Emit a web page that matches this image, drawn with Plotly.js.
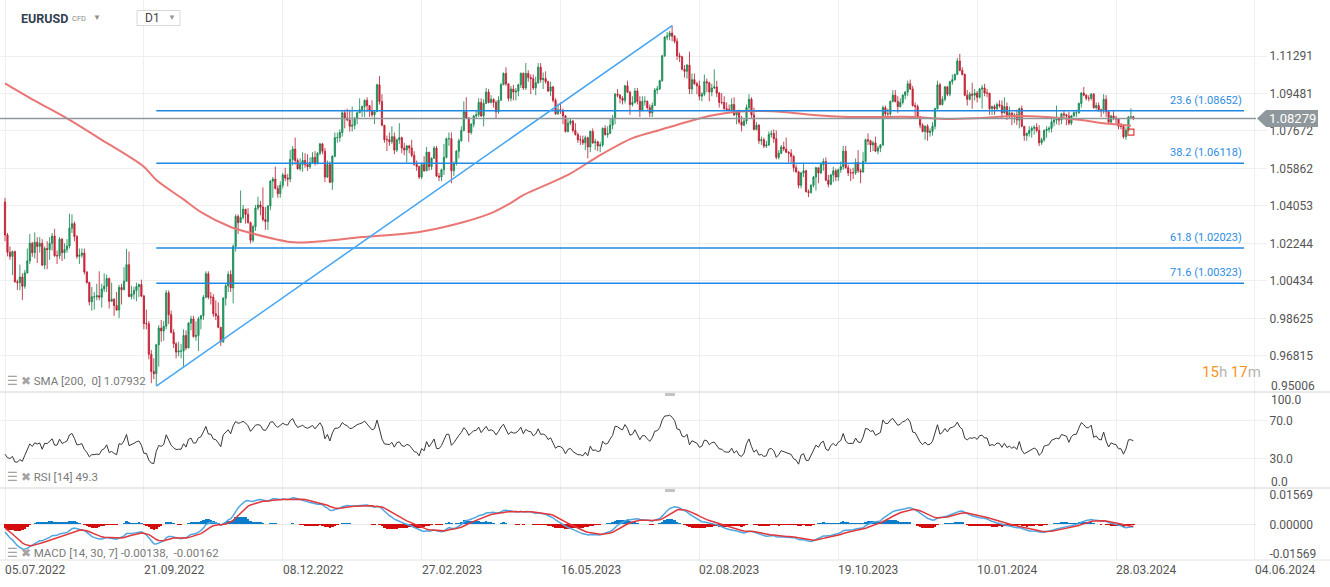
<!DOCTYPE html>
<html><head><meta charset="utf-8">
<script src="https://cdn.plot.ly/plotly-3.0.1.min.js"></script>
<style>html,body{margin:0;padding:0;background:#fff;}#chart{width:1330px;height:587px;}</style>
</head><body><div id="chart"></div>
<script>
// ---------- DATA (EURUSD D1, prices in 1/10000) ----------
// closes before the first visible bar (only used to warm up RSI / MACD)
const preClosePips = [10410,10435,10555,10465,10585,10565,10690,10735,10680,10725,10730,10780,10735,10650,10750,10720,10695,10700,10715,10615,10520,10410,10415,10445,10545,10495,10510,10535,10565,10520,10555,10580,10520,10445,10480,10425,10425];

const closePips = [
10265,10182,10162,10185,10040,10035,10062,10018,10082,10140,
10225,10180,10230,10210,10225,10120,10200,10195,10225,10260,
10165,10165,10245,10180,10195,10212,10298,10320,10258,10162,
10168,10178,10087,10036,9943,9967,9967,9972,9965,10005,
10018,10055,9945,9955,9925,9903,10012,10001,10042,10122,
9968,9980,9997,10016,10026,9971,9838,9837,9690,9607,
9596,9735,9816,9802,9825,9986,9880,9795,9740,9700,
9705,9705,9780,9720,9840,9860,9775,9780,9860,9875,
9965,10078,9965,9965,9885,9875,9820,9750,9960,10020,
10075,10010,10210,10355,10325,10350,10390,10365,10325,10240,
10305,10395,10410,10400,10340,10330,10405,10525,10535,10490,
10465,10505,10555,10540,10535,10630,10680,10625,10585,10605,
10625,10605,10595,10615,10640,10610,10660,10705,10670,10545,
10605,10520,10645,10735,10735,10760,10855,10830,10820,10790,
10795,10830,10855,10870,10885,10915,10890,10865,10845,10860,
10990,10910,10795,10725,10725,10715,10740,10675,10725,10735,
10685,10675,10695,10685,10650,10605,10595,10545,10605,10575,
10665,10595,10635,10685,10550,10545,10580,10640,10730,10730,
10575,10610,10670,10720,10770,10860,10830,10760,10800,10840,
10845,10905,10840,10900,10955,10905,10920,10905,10860,10915,
10990,11045,10995,10925,10970,10955,10960,10990,11045,10975,
11045,11025,11020,10975,11000,11075,11015,11020,11005,10960,
10980,10915,10850,10870,10865,10840,10765,10805,10815,10770,
10750,10725,10725,10710,10735,10690,10765,10710,10715,10695,
10700,10780,10750,10755,10795,10830,10945,10940,10925,10915,
10985,10955,10895,10905,10960,10910,10865,10910,10910,10880,
10855,10890,10965,10970,11010,11130,11220,11225,11240,11225,
11200,11130,11125,11065,11055,11085,10970,11015,10995,10985,
10935,10945,11005,11000,10955,10975,10980,10950,10905,10905,
10875,10870,10870,10895,10845,10860,10810,10795,10815,10880,
10920,10845,10775,10795,10720,10725,10695,10700,10750,10755,
10730,10640,10660,10690,10680,10665,10660,10645,10590,10570,
10505,10565,10575,10475,10470,10505,10545,10590,10565,10605,
10620,10530,10510,10555,10575,10545,10580,10595,10670,10590,
10565,10565,10565,10615,10575,10570,10620,10725,10720,10700,
10710,10670,10685,10700,10880,10850,10850,10910,10940,10910,
10885,10905,10940,10955,10995,10970,10890,10885,10835,10795,
10765,10790,10760,10765,10790,10875,10990,10895,10920,10980,
10945,11005,11015,11040,11105,11060,11040,10940,10920,10945,
10940,10950,10930,10970,10975,10950,10950,10875,10885,10875,
10895,10890,10855,10885,10845,10855,10835,10845,10820,10875,
10790,10745,10755,10770,10780,10785,10770,10710,10725,10770,
10775,10780,10810,10820,10825,10820,10850,10845,10840,10805,
10840,10855,10855,10900,10950,10940,10925,10925,10945,10880,
10890,10870,10865,10920,10860,10810,10840,10830,10825,10790,
10790,10740,10770,10835,10836,10828];

const highPips = [
10445,10275,10210,10190,10190,10050,10122,10080,10096,10200,
10270,10232,10278,10255,10255,10245,10210,10235,10255,10275,
10295,10190,10255,10250,10225,10245,10368,10365,10330,10265,
10200,10200,10200,10090,10040,10015,9990,10030,10090,10030,
10080,10075,10060,10035,9960,9990,10025,10030,10110,10198,
10185,10020,10015,10035,10030,10050,9975,9905,9850,9710,
9670,9740,9830,9855,9850,9999,9998,9900,9810,9748,
9750,9740,9810,9805,9845,9875,9875,9848,9870,9880,
9975,10090,10090,9990,9980,9950,9940,9820,9965,10030,
10090,10095,10220,10365,10365,10480,10410,10390,10395,10330,
10315,10410,10450,10430,10495,10400,10410,10530,10545,10595,
10505,10525,10565,10590,10560,10675,10695,10735,10635,10635,
10665,10660,10655,10640,10665,10670,10665,10710,10710,10685,
10625,10620,10650,10760,10760,10775,10865,10870,10875,10870,
10885,10835,10860,10925,10890,10920,10930,10890,10915,10865,
10995,11033,10945,10795,10745,10760,10790,10760,10730,10805,
10740,10710,10700,10700,10725,10670,10625,10600,10615,10645,
10690,10665,10640,10695,10695,10565,10585,10705,10735,10760,
10760,10620,10675,10730,10790,10910,10930,10835,10805,10845,
10865,10925,10925,10920,10975,10970,10940,10925,10915,10935,
11000,11050,11075,10995,10985,10990,10975,10995,11050,11050,
11095,11060,11040,11040,11030,11095,11095,11050,11055,11010,
11005,10985,10925,10900,10905,10875,10845,10830,10830,10820,
10805,10760,10745,10745,10745,10740,10770,10780,10730,10720,
10715,10785,10795,10790,10825,10845,10950,10970,10945,10935,
10990,11010,10960,10935,10975,10975,10935,10935,10935,10915,
10895,10905,10975,10985,11015,11135,11225,11245,11250,11276,
11230,11215,11145,11130,11085,11090,11150,11045,11045,11005,
11010,10955,11040,11020,11005,10995,11065,11010,10955,10950,
10935,10905,10895,10925,10930,10865,10870,10840,10825,10895,
10945,10930,10880,10810,10800,10740,10735,10720,10765,10770,
10775,10770,10675,10700,10715,10735,10670,10680,10650,10605,
10575,10570,10615,10580,10485,10510,10550,10595,10590,10615,
10635,10640,10555,10560,10595,10585,10585,10620,10695,10695,
10605,10585,10590,10635,10675,10585,10665,10730,10755,10725,
10720,10740,10695,10705,10890,10890,10875,10915,10965,10965,
10935,10925,10945,10960,11010,11015,10985,10905,10895,10840,
10805,10795,10800,10780,10810,10880,11010,11000,10935,10985,
10985,11010,11040,11045,11120,11139,11075,11045,10965,10955,
11000,10970,10960,10975,10990,10995,10970,10950,10890,10895,
10905,10915,10915,10930,10905,10885,10855,10855,10870,10880,
10890,10790,10760,10790,10790,10795,10805,10795,10735,10775,
10790,10790,10825,10825,10890,10835,10855,10865,10850,10860,
10845,10865,10870,10905,10955,10980,10945,10940,10950,10950,
10905,10905,10875,10945,10940,10865,10845,10865,10840,10830,
10805,10800,10785,10840,10876,10840];

const lowPips = [
10235,10162,10145,10072,10035,10000,9998,9952,10006,10080,
10125,10160,10152,10130,10180,10115,10100,10100,10145,10190,
10160,10125,10150,10140,10150,10180,10200,10275,10235,10150,
10125,10155,10075,10030,9925,9900,9905,9950,9950,9915,
9990,9990,9910,9945,9875,9900,9865,9930,10000,10040,
9965,9955,9955,9945,9965,9965,9810,9810,9665,9550,
9570,9536,9630,9750,9755,9810,9835,9790,9720,9670,
9680,9670,9630,9710,9720,9805,9770,9755,9705,9810,
9855,9960,9955,9930,9870,9855,9815,9730,9745,9925,
9990,9990,9935,10185,10270,10325,10340,10320,10320,10225,
10230,10285,10385,10360,10330,10290,10290,10385,10445,10485,
10445,10445,10490,10525,10500,10520,10600,10605,10580,10575,
10570,10590,10575,10585,10610,10600,10605,10650,10655,10520,
10540,10515,10483,10640,10710,10715,10740,10780,10815,10765,
10765,10775,10800,10855,10835,10835,10860,10835,10835,10800,
10860,10895,10790,10710,10670,10695,10705,10655,10665,10705,
10660,10650,10615,10660,10640,10600,10575,10535,10535,10570,
10575,10575,10580,10635,10545,10525,10525,10555,10635,10695,
10515,10550,10600,10635,10715,10765,10825,10715,10750,10785,
10825,10835,10835,10790,10900,10900,10900,10880,10830,10850,
10915,10990,10985,10910,10910,10915,10915,10935,10975,10965,
10965,11005,10945,10965,10940,10995,11000,10970,10995,10955,
10935,10905,10845,10845,10850,10800,10760,10760,10795,10760,
10745,10710,10700,10700,10675,10635,10665,10705,10675,10670,
10665,10690,10745,10735,10755,10775,10800,10930,10900,10895,
10900,10950,10845,10885,10900,10895,10835,10865,10890,10870,
10835,10835,10890,10945,10965,11005,11125,11205,11205,11200,
11190,11110,11100,11060,11025,11020,10945,10945,10990,10945,
10915,10910,10935,10955,10910,10935,10970,10930,10880,10895,
10870,10865,10865,10865,10840,10800,10800,10765,10790,10800,
10860,10830,10770,10770,10705,10700,10685,10685,10695,10735,
10710,10630,10630,10655,10670,10660,10615,10615,10570,10565,
10490,10490,10545,10470,10448,10465,10495,10480,10515,10560,
10575,10525,10495,10505,10520,10525,10525,10565,10580,10585,
10550,10525,10535,10555,10565,10515,10565,10615,10700,10665,
10670,10665,10655,10665,10695,10825,10825,10840,10905,10905,
10855,10880,10895,10920,10935,10965,10885,10830,10830,10780,
10760,10725,10720,10740,10745,10775,10870,10890,10890,10910,
10935,10935,10990,11010,11040,11055,11035,10935,10890,10915,
10875,10915,10905,10925,10875,10935,10930,10845,10845,10845,
10865,10880,10825,10850,10820,10825,10795,10805,10795,10780,
10785,10720,10720,10740,10735,10750,10760,10695,10700,10715,
10735,10760,10760,10790,10800,10795,10800,10830,10795,10795,
10795,10835,10835,10850,10880,10935,10915,10910,10915,10875,
10870,10860,10835,10850,10835,10800,10800,10820,10800,10775,
10775,10730,10725,10765,10825,10820];

const smaBar = [0,11,25,38,56,61,72,79,91,99,115,123,144,167,185,197,204,209,227,240,253,264,275,286,294,304,314,326,340,353,366,380,393,407,420,434,442,454];
const smaVal = [1.0997,1.0920,1.0828,1.0732,1.0595,1.0531,1.0437,1.0376,1.0304,1.0275,1.0231,1.0231,1.0255,1.0280,1.0328,1.0376,1.0420,1.0458,1.0555,1.0651,1.0733,1.0772,1.0811,1.0844,1.0859,1.0864,1.0859,1.0844,1.0835,1.0835,1.0835,1.0825,1.0830,1.0839,1.0835,1.0820,1.0806,1.0793];

const fibPct = ['23.6','38.2','61.8','71.6'];
const fibLevel = [1.08652,1.06118,1.02023,1.00323];
const priceTicks = [1.11291,1.09481,1.07672,1.05862,1.04053,1.02244,1.00434,0.98625,0.96815];
const priceBottomTick = 0.95006;
const rsiTicks = [30,70];
const macdTicks = [-0.01569,0,0.01569];
const dateLabels = ['05.07.2022','21.09.2022','08.12.2022','27.02.2023','16.05.2023','02.08.2023','19.10.2023','10.01.2024','28.03.2024','04.06.2024'];
const barsPerLabel = 56;
const lastPrice = 1.08279;
const legendSMA = 'SMA [200,  0] 1.07932';
const legendRSI = 'RSI [14] 49.3';
const legendMACD = 'MACD [14, 30, 7] -0.00138,  -0.00162';
const markBar = [454], markPrice = [1.0762];

// ---------- derived series ----------
const P = v => v/10000;
const close = closePips.map(P), high = highPips.map(P), low = lowPips.map(P);
const pre = preClosePips.map(P);
// FX daily bars open at the previous close
const open = close.map((c,i)=> i===0 ? pre[pre.length-1] : close[i-1]);
const bars = close.map((_,i)=>i);
const series = pre.concat(close), off = pre.length;

function ema(v,n){const a=2/(n+1);let e=v[0];return v.map(x=>(e=a*x+(1-a)*e));}
function rsi(v,n){const out=v.map(()=>null);let g=0,l=0;
  for(let i=1;i<=n;i++){const d=v[i]-v[i-1]; if(d>0)g+=d; else l-=d;}
  g/=n;l/=n; out[n]=100-100/(1+g/l);
  for(let i=n+1;i<v.length;i++){const d=v[i]-v[i-1];g=(g*(n-1)+Math.max(d,0))/n;l=(l*(n-1)+Math.max(-d,0))/n;out[i]=l===0?100:100-100/(1+g/l);}
  return out;}
const rsiV = rsi(series,14).slice(off);
const e14 = ema(series,14), e30 = ema(series,30);
const macdAll = e14.map((v,i)=>v-e30[i]);
const sigAll = ema(macdAll,7);
const macd = macdAll.slice(off), sig = sigAll.slice(off);
const hist = macd.map((v,i)=>v-sig[i]);

let lowBar=0, highBar=0;
low.forEach((v,i)=>{if(v<low[lowBar])lowBar=i;});
high.forEach((v,i)=>{if(v>high[highBar])highBar=i;});

// ---------- layout geometry ----------
const W=1330,H=587,M={l:0,r:74,t:0,b:27};
const plotW=W-M.l-M.r, plotH=H-M.t-M.b;
const px=x=>x/plotW, py=y=>1-y/plotH;
const dPrice=[py(392),1], dRsi=[py(488),py(392)], dMacd=[0,py(488)];
const priceRange=[0.95075,1.13994];
const fibEnd = 499.6;
const FONT='Roboto, "Open Sans", sans-serif';
const TICKFONT={family:FONT,size:12,color:'#555'};

const traces = [
 {type:'candlestick',x:bars,open:open,high:high,low:low,close:close,xaxis:'x',yaxis:'y',
  whiskerwidth:0,
  increasing:{line:{color:'#12804a',width:0.8},fillcolor:'#22b36d'},
  decreasing:{line:{color:'#b5192c',width:0.8},fillcolor:'#f4263c'},hoverinfo:'none'},
 {type:'scatter',mode:'lines',x:smaBar,y:smaVal,xaxis:'x',yaxis:'y',line:{color:'#ea7674',width:2,shape:'spline',smoothing:0.8},hoverinfo:'none'},
 {type:'scatter',mode:'markers',x:markBar,y:markPrice,xaxis:'x',yaxis:'y',marker:{symbol:'square-open',size:6,color:'#e53935',line:{width:1.2,color:'#e53935'}},hoverinfo:'none'},
 {type:'scatter',mode:'lines',x:bars,y:rsiV,xaxis:'x2',yaxis:'y2',line:{color:'#383838',width:1},hoverinfo:'none'},
 {type:'bar',x:bars,y:hist,xaxis:'x3',yaxis:'y3',width:1,marker:{color:hist.map(v=>v>=0?'#0b7dcb':'#d30d0d'),line:{width:0}},hoverinfo:'none'},
 {type:'scatter',mode:'lines',x:bars,y:macd,xaxis:'x3',yaxis:'y3',line:{color:'#4ea6e2',width:1.5},hoverinfo:'none'},
 {type:'scatter',mode:'lines',x:bars,y:sig,xaxis:'x3',yaxis:'y3',line:{color:'#e2373b',width:1.5},hoverinfo:'none'}
];

const xCommon = {range:[-2.016,504.44],tickvals:dateLabels.map((_,k)=>k*barsPerLabel),showticklabels:false,
  showgrid:true,gridcolor:'#efefef',gridwidth:1,zeroline:false,fixedrange:true,ticks:'',showline:false};
const yCommon = {side:'right',ticks:'outside',ticklen:10,tickcolor:'#efefef',showgrid:true,gridcolor:'#efefef',
  zeroline:false,fixedrange:true,showline:false,tickfont:TICKFONT};

const shapes = [];
const annotations = [];
// fib levels
fibLevel.forEach((lv,i)=>{
  shapes.push({type:'line',xref:'x',yref:'y',x0:lowBar,x1:fibEnd,y0:lv,y1:lv,line:{color:'#1e88e5',width:1.5}});
  annotations.push({xref:'x',yref:'y',x:fibEnd,y:lv,xanchor:'right',yanchor:'bottom',yshift:2,showarrow:false,
    text:fibPct[i]+' ('+lv.toFixed(5)+')',font:{family:FONT,size:11,color:'#2b8de2'}});
});
// trend line low -> high
shapes.push({type:'line',xref:'x',yref:'y',x0:lowBar,y0:low[lowBar],x1:highBar,y1:high[highBar],line:{color:'#42a5f5',width:1.5}});
// current price line + tag
shapes.push({type:'line',xref:'paper',yref:'y',x0:0,x1:1,y0:lastPrice,y1:lastPrice,line:{color:'#8e979b',width:1.5}});
const hh = 8.5/2072;
shapes.push({type:'path',xref:'paper',yref:'y',fillcolor:'#8e979b',line:{width:0},layer:'above',
  path:`M ${px(1257)} ${lastPrice} L ${px(1266)} ${lastPrice+hh} L ${px(1318)} ${lastPrice+hh} L ${px(1318)} ${lastPrice-hh} L ${px(1266)} ${lastPrice-hh} Z`});
annotations.push({xref:'paper',yref:'y',x:px(1292),y:lastPrice,xanchor:'center',yanchor:'middle',showarrow:false,
  text:lastPrice.toFixed(5),font:{family:FONT,size:13,color:'#ffffff'}});
// panel separators
[py(392),py(488)].forEach(y=>{
  shapes.push({type:'line',xref:'paper',yref:'paper',x0:0,x1:W/plotW,y0:y,y1:y,line:{color:'#d4d4d4',width:1}});
  shapes.push({type:'rect',xref:'paper',yref:'paper',x0:px(665),x1:px(675),y0:y-1/plotH,y1:y-4/plotH,fillcolor:'#c4c4c4',line:{width:0}});
});
shapes.push({type:'line',xref:'paper',yref:'paper',x0:0,x1:W/plotW,y0:0,y1:0,line:{color:'#e2e2e2',width:1}});
// D1 box
shapes.push({type:'rect',xref:'paper',yref:'paper',x0:px(137),x1:px(180),y0:py(10.5),y1:py(25.5),fillcolor:'#ffffff',line:{color:'#d8d8d8',width:1}});

// date labels (left-aligned at their bars)
dateLabels.forEach((t,k)=>annotations.push({xref:'x',yref:'paper',x:k*barsPerLabel,y:0,xanchor:'left',yanchor:'top',yshift:-1,xshift:-2,
  showarrow:false,text:t,font:{family:FONT,size:12,color:'#555'}}));
// shifted edge tick labels
const tickX = px(1269);
annotations.push({xref:'paper',yref:'paper',x:tickX,y:py(386),xanchor:'left',yanchor:'middle',showarrow:false,text:priceBottomTick.toFixed(5),font:TICKFONT});
annotations.push({xref:'paper',yref:'paper',x:tickX,y:py(400),xanchor:'left',yanchor:'middle',showarrow:false,text:'100.0',font:TICKFONT});
annotations.push({xref:'paper',yref:'paper',x:tickX,y:py(482),xanchor:'left',yanchor:'middle',showarrow:false,text:'0.0',font:TICKFONT});
// header
annotations.push({xref:'paper',yref:'paper',x:px(19),y:py(18),xanchor:'left',yanchor:'middle',showarrow:false,text:'<b>EURUSD</b>',font:{family:FONT,size:12.5,color:'#34414f'}});
annotations.push({xref:'paper',yref:'paper',x:px(70),y:py(19),xanchor:'left',yanchor:'middle',showarrow:false,text:'CFD',font:{family:FONT,size:7.5,color:'#8a8a8a'}});
annotations.push({xref:'paper',yref:'paper',x:px(97),y:py(17),xanchor:'center',yanchor:'middle',showarrow:false,text:'▼',font:{family:FONT,size:8,color:'#8f8f8f'}});
annotations.push({xref:'paper',yref:'paper',x:px(143),y:py(18),xanchor:'left',yanchor:'middle',showarrow:false,text:'D1',font:{family:FONT,size:12,color:'#444'}});
annotations.push({xref:'paper',yref:'paper',x:px(172),y:py(17.5),xanchor:'center',yanchor:'middle',showarrow:false,text:'▼',font:{family:FONT,size:8,color:'#9a9a9a'}});
// indicator legends
const icon = '<span style="color:#a3a3a3">☰ ✖</span> ';
[[legendSMA,381],[legendRSI,477],[legendMACD,553]].forEach(([t,y])=>annotations.push({xref:'paper',yref:'paper',x:px(5),y:py(y),
  xanchor:'left',yanchor:'middle',showarrow:false,text:icon+t,font:{family:FONT,size:11.5,color:'#7a7a7a'}}));
// countdown
annotations.push({xref:'paper',yref:'paper',x:px(1263),y:py(372),xanchor:'right',yanchor:'middle',showarrow:false,
  text:'<span style="color:#f7941d">15</span><span style="color:#b5b5b5">h </span><span style="color:#f7941d">17</span><span style="color:#b5b5b5">m</span>',
  font:{family:FONT,size:15}});

const layout = {
  width:W,height:H,margin:M,paper_bgcolor:'#fff',plot_bgcolor:'#fff',showlegend:false,hovermode:false,dragmode:false,
  bargap:0,
  xaxis:Object.assign({},xCommon,{anchor:'y',rangeslider:{visible:false}}),
  xaxis2:Object.assign({},xCommon,{anchor:'y2',matches:'x'}),
  xaxis3:Object.assign({},xCommon,{anchor:'y3',matches:'x'}),
  yaxis:Object.assign({},yCommon,{domain:dPrice,range:priceRange,tickvals:priceTicks,ticktext:priceTicks.map(v=>v.toFixed(5)),anchor:'x'}),
  yaxis2:Object.assign({},yCommon,{domain:dRsi,range:[0,99.27],tickvals:rsiTicks,ticktext:rsiTicks.map(v=>v.toFixed(1)),anchor:'x2'}),
  yaxis3:Object.assign({},yCommon,{domain:dMacd,range:[-0.01876,0.01908],tickvals:macdTicks,ticktext:macdTicks.map(v=>v.toFixed(5)),
    showgrid:false,zeroline:true,zerolinecolor:'#e8e8e8',zerolinewidth:1,tickcolor:'rgba(0,0,0,0)',anchor:'x3'}),
  shapes:shapes,annotations:annotations,
  font:{family:FONT}
};
Plotly.newPlot('chart',traces,layout,{staticPlot:true,displayModeBar:false});
</script></body></html>
